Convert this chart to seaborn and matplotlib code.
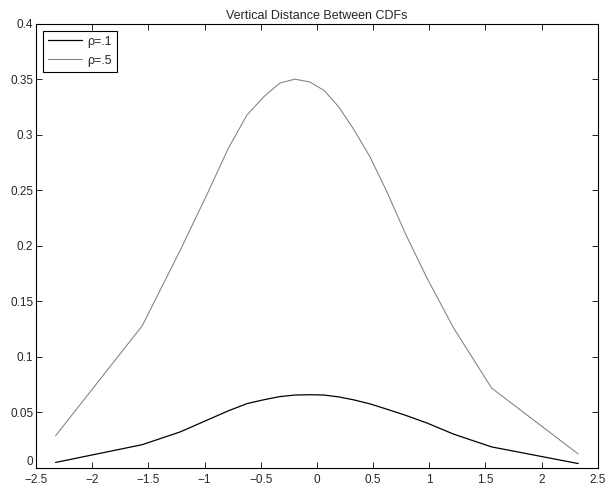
import pandas as pd
import numpy as np
import matplotlib
matplotlib.use('Agg')
import matplotlib.pyplot as plt
from matplotlib.ticker import FuncFormatter
import seaborn as sns

# x positions and the two curves
x_vals = [-2.326, -1.555, -1.217, -0.980, -0.788, -0.622, -0.471, -0.331, -0.196, -0.065,
          0.065, 0.196, 0.331, 0.471, 0.622, 0.788, 0.980, 1.217, 1.555, 2.326]
rho_1 = [0.005, 0.021, 0.0325, 0.043, 0.0515, 0.058, 0.0615, 0.0643, 0.0657, 0.0660,
         0.0657, 0.0640, 0.0613, 0.0578, 0.0530, 0.0475, 0.0405, 0.0305, 0.019, 0.004]
rho_5 = [0.029, 0.128, 0.196, 0.246, 0.288, 0.318, 0.3345, 0.3466, 0.3502, 0.3477,
         0.340, 0.325, 0.3045, 0.2805, 0.249, 0.211, 0.171, 0.126, 0.072, 0.0126]
labels = ['ρ=.1', 'ρ=.5']
colors = ['black', '#808080']

df = pd.concat([
    pd.DataFrame({'x': x_vals, 'y': rho_1, 'series': labels[0]}),
    pd.DataFrame({'x': x_vals, 'y': rho_5, 'series': labels[1]}),
])

sns.set_style('ticks')
plt.rcParams['font.family'] = ['Liberation Sans', 'DejaVu Sans']
plt.rcParams['xtick.direction'] = 'in'
plt.rcParams['ytick.direction'] = 'in'

fig = plt.figure(figsize=(6.1, 4.87), dpi=100)
ax = fig.add_axes([0.059, 0.039, 0.921, 0.912])

sns.lineplot(data=df, x='x', y='y', hue='series', palette=colors,
             estimator=None, sort=False, ax=ax, legend=False)
ax.lines[0].set_linewidth(0.9)
ax.lines[1].set_linewidth(0.75)

ax.set_xlim(-2.5, 2.5)
ax.set_ylim(0, 0.4)
ax.set_xticks(np.arange(-2.5, 2.51, 0.5))
ax.set_yticks(np.arange(0, 0.401, 0.05))
fmt = FuncFormatter(lambda v, p: ('%g' % round(v, 3)).replace('-', '\u2212'))
ax.xaxis.set_major_formatter(fmt)
ax.yaxis.set_major_formatter(fmt)
ax.tick_params(axis='both', which='both', top=True, right=True, length=4,
               width=0.6, labelsize=8.5, color='black')
ax.tick_params(axis='x', pad=4)
ax.tick_params(axis='y', pad=2)
for s in ax.spines.values():
    s.set_linewidth(0.8)
    s.set_color('black')
ax.set_xlabel('')
ax.set_ylabel('')
ax.set_title('Vertical Distance Between CDFs', fontsize=9, pad=3.5)

# nudge the "0" on the y axis up so it clears the "-2.5" below it
fig.canvas.draw()
ax.get_yticklabels()[0].set_va('bottom')

leg = ax.legend(ax.lines[:2], labels, loc='upper left', fontsize=9,
                frameon=True, fancybox=False, framealpha=1, edgecolor='black',
                handlelength=2.7, borderpad=0.4, labelspacing=0.55,
                borderaxespad=0.55, handletextpad=0.45)
leg.get_frame().set_linewidth(0.8)

fig.savefig('out.png', dpi=100)
